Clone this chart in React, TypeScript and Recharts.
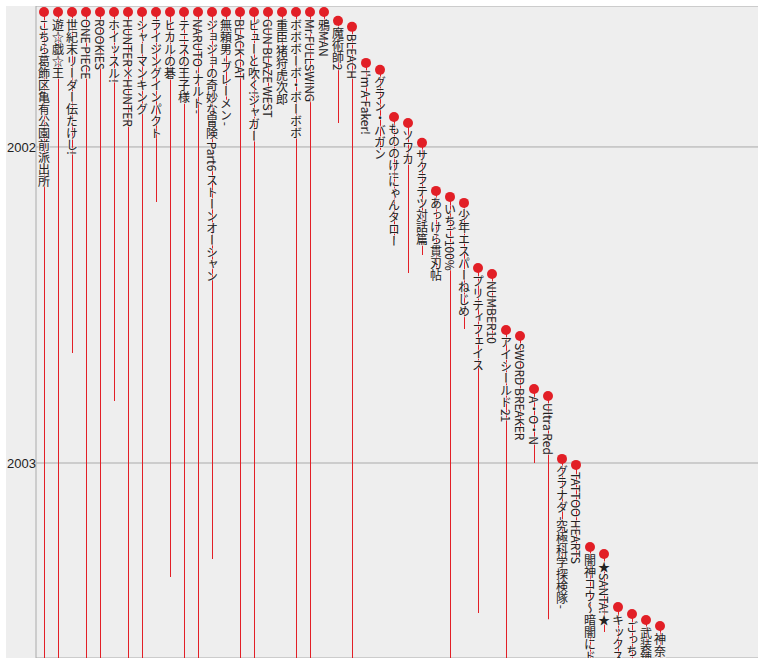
import { ComposedChart, Bar, Scatter, XAxis, YAxis, CartesianGrid } from "recharts";

const RED = "#e21f26";

// visible time window (decimal years), top of chart to bottom
const DOMAIN_MIN = 2001.554;
const DOMAIN_MAX = 2003.617;
const WINDOW_START = 2001.573;

const titles = [
  "こちら葛飾区亀有公園前派出所",
  "遊☆戯☆王",
  "世紀末リーダー伝たけし!",
  "ONE PIECE",
  "ROOKIES",
  "ホイッスル!",
  "HUNTER×HUNTER",
  "シャーマンキング",
  "ライジングインパクト",
  "ヒカルの碁",
  "テニスの王子様",
  "NARUTO -ナルト-",
  "ジョジョの奇妙な冒険 Part6 ストーンオーシャン",
  "無頼男 -ブレーメン-",
  "BLACK CAT",
  "ピューと吹く!ジャガー",
  "GUN BLAZE WEST",
  "重臣 猪狩虎次郎",
  "ボボボーボ・ボーボボ",
  "Mr.FULLSWING",
  "鴉MAN",
  "魔術師2",
  "BLEACH",
  "I'm A Faker!",
  "グラン・バガン",
  "もののけ!にゃんタロー",
  "ソワカ",
  "サクラテツ対話篇",
  "あっけら貫刃帖",
  "いちご100%",
  "少年エスパーねじめ",
  "プリティフェイス",
  "NUMBER10",
  "アイシールド21",
  "SWORD BREAKER",
  "A・O・N",
  "Ultra Red",
  "グラナダ -究極科学探検隊-",
  "TATTOO HEARTS",
  "闇神コウ〜暗闇にドッキリ!〜",
  "★SANTA!★",
  "キックス",
  "ごっちゃんです!!",
  "武装錬金",
  "神奈川磯南風天組",
];

// null = already running before the window
const starts: (number | null)[] = [
  null, null, null, null, null, null, null, null, null, null,
  null, null, null, null, null, null, null, null, null, null,
  null, 2001.601, 2001.62, 2001.734, 2001.756, 2001.905, 2001.924, 2001.987, 2002.139, 2002.158,
  2002.177, 2002.383, 2002.402, 2002.579, 2002.598, 2002.766, 2002.788, 2002.987, 2003.006, 2003.266,
  2003.288, 2003.456, 2003.478, 2003.497, 2003.516,
];

// null = still running after the window
const ends: (number | null)[] = [
  null, null, 2002.652, null, null, 2002.804, null, null, 2002.174, 2003.361,
  null, null, 2003.304, 2001.851, null, null, 2001.883, 2001.804, null, null,
  2001.677, 2001.924, null, 2001.946, 2002.009, 2002.294, 2002.399, 2002.342, 2002.389, null,
  2002.576, 2003.475, 2002.611, null, 2002.927, 2003.0, 2003.494, 2003.402, 2003.307, null,
  2003.535, null, null, null, null,
];

const data = titles.map((name, i) => {
  const s = starts[i] ?? WINDOW_START;
  const e = ends[i] ?? DOMAIN_MAX;
  return { name, start: s, span: [e, s] };
});

const Marker = (props: any) => {
  const { cx, cy, payload } = props;
  return (
    <g>
      <circle cx={cx} cy={cy} r={5} fill={RED} />
      <text
        x={cx}
        y={cy + 7}
        style={{ writingMode: "vertical-rl" }}
        fontSize={12}
        fontFamily="'Noto Sans CJK JP', sans-serif"
        fill="#222"
        stroke="#eee"
        strokeOpacity={0.7}
        strokeWidth={2}
        paintOrder="stroke"
      >
        {payload.name}
      </text>
    </g>
  );
};

export default function App() {
  return (
    <div style={{ position: "absolute", left: 6, top: 6, width: 752, height: 652, background: "#eee" }}>
      <ComposedChart width={752} height={652} data={data} margin={{ top: 0, right: 0, bottom: 0, left: 0 }}>
        <CartesianGrid vertical={false} stroke="#aaa" />
        <XAxis dataKey="name" hide padding={{ left: 1, right: 91 }} />
        <YAxis
          type="number"
          reversed
          domain={[DOMAIN_MIN, DOMAIN_MAX]}
          allowDataOverflow
          ticks={[2002, 2003]}
          width={30}
          tickLine={false}
          tickSize={0}
          tickMargin={0}
          axisLine={{ stroke: "#aaa" }}
          tick={{ fill: "#222", fontSize: 13, fontFamily: "'Liberation Sans', Arial, sans-serif" }}
        />
        <Bar dataKey="span" fill={RED} barSize={1} isAnimationActive={false} />
        <Scatter dataKey="start" shape={Marker} isAnimationActive={false} />
      </ComposedChart>
    </div>
  );
}
